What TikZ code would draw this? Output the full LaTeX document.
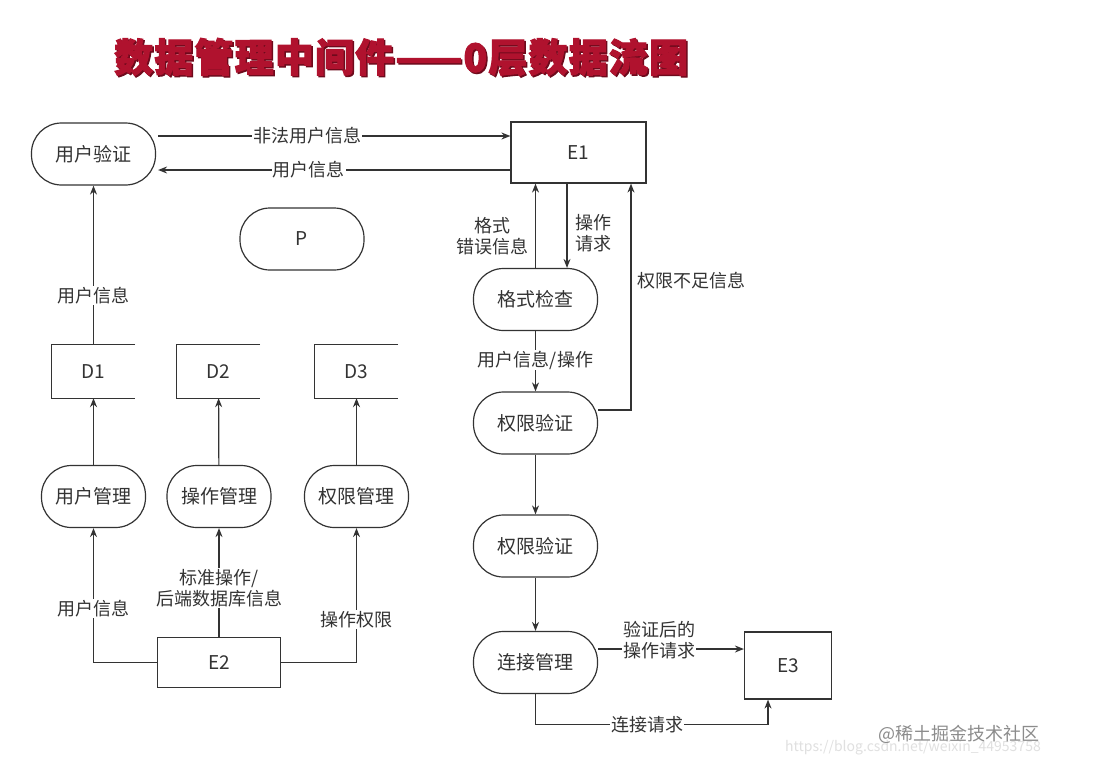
\documentclass[tikz,border=0pt]{standalone}
\usepackage{fontspec}
\setmainfont{Noto Sans CJK SC}
\newfontfamily\titlefont[FakeBold=2.5, LetterSpace=3]{Noto Sans CJK SC}
\usetikzlibrary{arrows.meta}
\definecolor{ink}{HTML}{333333}
\definecolor{titlered}{HTML}{B0122E}
\definecolor{titleshade}{HTML}{6E0A1C}
\begin{document}
\begin{tikzpicture}[x=1pt,y=-1pt,
  font=\fontsize{19}{22}\selectfont,
  every node/.style={text=ink},
  proc/.style={draw=ink, line width=1.2pt, rounded corners=30pt, minimum width=124pt, minimum height=62pt, inner sep=0pt},
  ent/.style={draw=ink, line width=1.2pt, inner sep=0pt},
  store/.style={minimum width=83pt, minimum height=53pt, inner sep=0pt},
  storeline/.style={draw=ink, line width=1.2pt},
  flow/.style={draw=ink, line width=1.2pt, -{Stealth[length=9pt,width=7pt]}},
  lab/.style={fill=white, inner sep=1pt, align=center, font=\fontsize{18}{21}\selectfont},
  freelab/.style={inner sep=0pt, align=center, font=\fontsize{18}{21}\selectfont},
  titlestyle/.style={font=\fontsize{39}{44}\selectfont\titlefont\bfseries, anchor=west, inner sep=0pt}
]
\useasboundingbox (0,0) rectangle (1094,776);
\fill[white] (0,0) rectangle (1094,776);

% title
\node[titlestyle, text=titleshade] (titleshadow) at (115.5,58.5) {数据管理中间件——0层数据流图};
\node[titlestyle, text=titlered] (title) at (114,57) {数据管理中间件——0层数据流图};

% processes and entities
\node[proc] (yhyz) at (93.5,154) {用户验证};
\node[ent, minimum width=135pt, minimum height=61pt] (E1) at (578.5,152.5) {E1};
\node[proc] (P) at (302,239) {P};
\node[proc] (gsjc) at (535.5,299.5) {格式检查};
\node[proc] (qxyz1) at (535.5,423) {权限验证};
\node[proc] (qxyz2) at (535.5,546) {权限验证};
\node[proc] (ljgl) at (535.5,662.5) {连接管理};
\node[ent, minimum width=87pt, minimum height=67pt] (E3) at (788,665.5) {E3};

% data stores
\node[store] (D1) at (93.5,371.5) {D1};
\node[store] (D2) at (218.5,371.5) {D2};
\node[store] (D3) at (356.5,371.5) {D3};
\foreach \d in {D1,D2,D3}
  \draw[storeline] (\d.north east) -- (\d.north west) -- (\d.south west) -- (\d.south east);

\node[proc, minimum width=104pt] (yhgl) at (93.5,496.5) {用户管理};
\node[proc, minimum width=104pt] (czgl) at (219,496.5) {操作管理};
\node[proc, minimum width=104pt] (qxgl) at (356.5,496.5) {权限管理};
\node[ent, minimum width=123pt, minimum height=50pt] (E2) at (219,662.5) {E2};

% E1 <-> 用户验证
\coordinate (e1a) at ([yshift=16.5pt]E1.west);
\coordinate (e1b) at ([yshift=-17.5pt]E1.west);
\draw[flow] ([xshift=2pt]yhyz.east |- e1a) -- node[lab, pos=0.424]{非法用户信息} (e1a);
\draw[flow] (e1b) -- node[lab, pos=0.573]{用户信息} ([xshift=2pt]yhyz.east |- e1b);

% E1 <-> 格式检查
\coordinate (c1) at ([xshift=31.5pt]gsjc.north);
\draw[flow] (gsjc.north) -- (gsjc.north |- E1.south);
\draw[flow] (c1 |- E1.south) -- (c1);
\node[freelab] (l1) at (492,236) {格式\\错误信息};
\node[freelab] (l2) at (593,233) {操作\\请求};

% 格式检查 -> 权限验证
\draw[flow] (gsjc) -- node[lab, pos=0.48]{用户信息/操作} (qxyz1);

% 权限验证 -> E1
\coordinate (c2) at ([xshift=52.5pt]E1.south);
\draw[flow] ([yshift=13pt]qxyz1.east) -| (c2);
\node[freelab, anchor=west] (l3) at (637,281) {权限不足信息};

% vertical chain
\draw[flow] (qxyz1) -- (qxyz2);
\draw[flow] (qxyz2) -- (ljgl);

% 连接管理 -> E3
\coordinate (c3) at ([yshift=13.5pt]ljgl.east);
\draw[flow] (c3) -- (E3.west |- c3);
\node[lab] (l4) at (659,640) {验证后的\\操作请求};
\coordinate (c4) at ([xshift=-20pt]E3.south);
\draw[flow] (ljgl.south) |- node[lab, pos=0.74]{连接请求} ([yshift=-25pt]c4) -- (c4);

% left column
\draw[flow] (D1) -- node[lab, pos=0.31]{用户信息} (yhyz);
\draw[flow] (yhgl) -- (D1);
\draw[flow] (czgl) -- (D2);
\draw[flow] (qxgl) -- (D3);

% E2 -> managers
\draw[flow] (E2.west) -| node[lab, pos=0.7]{用户信息} (yhgl.south);
\draw[flow] (E2.north) -- node[lab, pos=0.45]{标准操作/\\后端数据库信息} (czgl.south);
\draw[flow] (E2.east) -| node[lab, pos=0.66]{操作权限} (qxgl.south);

% watermark
\node[text=black!12, font=\fontsize{14}{16}\selectfont, inner sep=0pt] (wm2) at (913,748) {https://blog.csdn.net/weixin\_44953758};
\node[text=black!45, font=\fontsize{18}{20}\selectfont, inner sep=0pt] (wm1) at (959,734) {@稀土掘金技术社区};
\end{tikzpicture}
\end{document}
